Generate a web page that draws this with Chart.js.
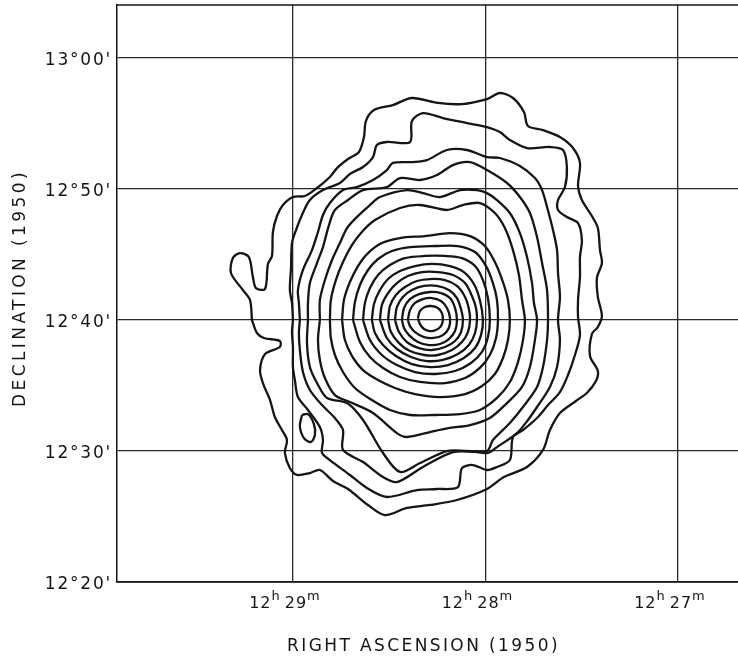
<!DOCTYPE html>
<html>
<head>
<meta charset="utf-8">
<script src="https://cdn.jsdelivr.net/npm/chart.js@4/dist/chart.umd.min.js"></script>
<style>
html,body{margin:0;padding:0;background:#fff;}
canvas{display:block;}
</style>
</head>
<body>
<canvas id="c" width="738" height="658" style="width:738px;height:658px"></canvas>
<script>
// Right ascension in minutes of time past 12h, declination in arcminutes past 12°
const xTickValues = [29, 28, 27];
const xTickHours = ["12", "12", "12"];
const xTickMinutes = ["29", "28", "27"];
const yTickValues = [20, 30, 40, 50, 60];
const yTickLabels = ["12°20'", "12°30'", "12°40'", "12°50'", "13°00'"];
const xTitle = "RIGHT ASCENSION (1950)";
const yTitle = "DECLINATION (1950)";

// contour levels, outermost first: [RA (min), Dec (arcmin)]
const contour01 = [[29.213,40.00],[29.223,41.53],[29.260,42.29],[29.322,43.59],[29.312,44.73],[29.275,45.11],[29.229,44.81],[29.208,43.28],[29.192,42.44],[29.145,42.37],[29.130,44.28],[29.109,44.89],[29.104,46.72],[29.083,47.94],[29.052,48.78],[29.000,49.39],[28.938,49.47],[28.875,50.08],[28.808,50.92],[28.771,51.60],[28.714,52.29],[28.657,52.83],[28.631,53.97],[28.621,55.19],[28.579,56.03],[28.481,56.41],[28.382,56.95],[28.247,56.57],[28.122,56.49],[27.992,56.87],[27.925,57.33],[27.857,56.95],[27.800,55.88],[27.779,54.81],[27.701,54.50],[27.613,53.97],[27.545,53.13],[27.509,51.99],[27.519,50.23],[27.499,49.16],[27.447,47.94],[27.416,47.02],[27.405,45.34],[27.395,44.35],[27.421,43.21],[27.416,41.76],[27.395,40.31],[27.416,39.47],[27.447,38.93],[27.457,37.25],[27.416,36.11],[27.426,35.34],[27.473,34.43],[27.530,33.82],[27.613,32.90],[27.665,31.60],[27.701,30.08],[27.784,28.78],[27.904,28.01],[27.992,27.10],[28.148,26.26],[28.288,25.88],[28.408,25.65],[28.522,25.11],[28.610,25.88],[28.714,27.10],[28.792,27.71],[28.860,28.55],[28.912,28.32],[28.979,28.17],[29.016,28.70],[29.042,29.85],[29.031,30.84],[29.057,31.60],[29.094,32.60],[29.119,33.89],[29.156,35.19],[29.171,36.18],[29.145,37.40],[29.068,37.94],[29.068,38.40],[29.151,38.63],[29.187,39.01]];
const island01 = [[28.953,32.75],[28.922,32.82],[28.891,32.06],[28.886,31.22],[28.906,30.69],[28.943,30.99],[28.964,31.91]];
const contour02 = [[29.000,40.00],[29.005,41.30],[29.016,42.29],[29.010,43.97],[29.005,45.88],[28.984,46.87],[28.953,48.02],[28.912,49.16],[28.844,49.92],[28.756,50.46],[28.704,51.15],[28.636,51.68],[28.584,52.44],[28.564,53.36],[28.512,53.59],[28.392,53.59],[28.382,55.19],[28.325,55.80],[28.221,55.42],[28.096,55.04],[27.992,54.73],[27.925,54.35],[27.873,53.74],[27.784,53.13],[27.665,53.21],[27.597,52.98],[27.577,51.68],[27.587,50.15],[27.623,49.16],[27.623,48.40],[27.577,47.86],[27.519,47.40],[27.499,46.11],[27.509,44.81],[27.509,43.28],[27.519,41.53],[27.519,40.23],[27.509,38.85],[27.535,37.33],[27.571,35.80],[27.613,34.50],[27.675,33.51],[27.732,32.52],[27.805,31.60],[27.857,31.07],[27.873,29.31],[27.940,28.78],[27.992,28.55],[28.065,28.93],[28.122,28.70],[28.143,27.25],[28.252,27.10],[28.356,27.02],[28.512,26.49],[28.616,27.18],[28.704,28.17],[28.808,29.31],[28.849,29.85],[28.844,30.84],[28.860,31.83],[28.922,33.13],[28.974,34.12],[28.990,35.42],[29.000,36.41],[29.000,37.94],[29.005,39.08]];
const contour03 = [[28.964,40.00],[28.969,41.30],[28.974,42.29],[28.948,43.82],[28.901,45.34],[28.870,46.72],[28.844,48.02],[28.808,48.93],[28.740,49.92],[28.668,50.15],[28.584,50.69],[28.512,51.45],[28.481,51.99],[28.377,52.06],[28.304,52.21],[28.200,52.98],[28.096,52.98],[27.992,52.44],[27.925,52.37],[27.821,51.76],[27.743,50.84],[27.706,49.92],[27.680,48.63],[27.649,46.87],[27.628,45.34],[27.623,43.59],[27.613,41.76],[27.623,40.00],[27.613,38.47],[27.628,36.41],[27.665,34.89],[27.732,33.36],[27.779,32.37],[27.836,31.37],[27.940,30.30],[27.987,29.85],[28.044,29.92],[28.169,29.92],[28.325,28.78],[28.460,27.63],[28.532,28.01],[28.636,29.16],[28.740,30.08],[28.740,31.60],[28.782,32.52],[28.849,33.51],[28.912,34.66],[28.948,36.03],[28.964,37.71],[28.969,39.01]];
const contour04 = [[28.922,40.00],[28.922,41.30],[28.912,42.82],[28.875,44.35],[28.844,45.57],[28.813,47.25],[28.782,48.40],[28.714,49.16],[28.636,49.92],[28.512,50.15],[28.444,50.84],[28.340,50.69],[28.252,51.07],[28.169,51.83],[28.080,52.06],[27.992,51.45],[27.888,50.46],[27.821,49.39],[27.769,48.17],[27.732,46.34],[27.706,44.35],[27.680,42.29],[27.675,40.00],[27.680,38.47],[27.701,36.41],[27.732,34.89],[27.805,33.36],[27.873,32.14],[27.961,30.84],[27.992,30.00],[28.096,30.00],[28.200,30.00],[28.340,29.08],[28.444,28.40],[28.532,29.85],[28.636,32.37],[28.719,33.66],[28.823,34.05],[28.875,35.19],[28.912,36.41],[28.927,38.24]];
const contour05 = [[28.860,40.00],[28.860,41.53],[28.834,43.05],[28.797,44.58],[28.756,45.88],[28.719,47.02],[28.668,47.86],[28.600,48.78],[28.548,49.39],[28.408,49.92],[28.325,49.69],[28.236,49.39],[28.132,49.92],[28.044,49.92],[27.992,49.69],[27.940,49.16],[27.873,48.17],[27.821,46.64],[27.784,44.81],[27.758,42.82],[27.748,41.30],[27.732,40.00],[27.743,38.47],[27.769,36.41],[27.810,34.89],[27.888,33.66],[27.977,32.52],[28.080,31.98],[28.184,31.76],[28.288,31.45],[28.408,31.07],[28.460,31.37],[28.584,32.90],[28.704,33.74],[28.782,34.27],[28.834,35.57],[28.860,36.95],[28.870,38.47]];
const contour06 = [[28.808,40.00],[28.803,41.53],[28.777,43.05],[28.740,44.43],[28.693,45.73],[28.642,46.72],[28.574,47.63],[28.444,48.55],[28.340,48.78],[28.200,48.40],[28.117,48.78],[28.029,48.93],[27.951,48.17],[27.899,47.02],[27.857,45.34],[27.826,43.44],[27.810,41.53],[27.795,40.00],[27.805,38.47],[27.831,36.79],[27.873,35.27],[27.940,34.05],[28.029,33.13],[28.132,32.82],[28.262,32.75],[28.392,32.75],[28.496,33.13],[28.590,33.89],[28.678,34.81],[28.740,36.03],[28.782,37.33],[28.803,38.63]];
const contour07 = [[28.745,40.00],[28.735,41.53],[28.704,42.90],[28.662,44.12],[28.610,45.11],[28.538,45.88],[28.444,46.26],[28.314,46.41],[28.184,46.64],[28.080,46.41],[28.003,45.65],[27.951,44.43],[27.909,42.90],[27.883,41.53],[27.873,40.00],[27.883,38.47],[27.909,37.10],[27.951,35.88],[28.018,34.96],[28.106,34.35],[28.236,34.12],[28.366,34.35],[28.470,34.81],[28.558,35.42],[28.636,36.18],[28.693,37.25],[28.730,38.47]];
const contour08 = [[28.688,40.00],[28.678,41.37],[28.652,42.67],[28.610,43.82],[28.558,44.66],[28.486,45.27],[28.392,45.57],[28.262,45.65],[28.143,45.65],[28.054,45.19],[27.997,44.12],[27.961,42.82],[27.940,41.53],[27.935,40.00],[27.945,38.63],[27.977,37.33],[28.029,36.34],[28.106,35.57],[28.210,35.19],[28.340,35.27],[28.444,35.65],[28.532,36.34],[28.600,37.18],[28.652,38.32]];
const contour09 = [[28.636,40.00],[28.626,41.30],[28.600,42.44],[28.558,43.44],[28.496,44.20],[28.418,44.73],[28.314,44.89],[28.210,44.89],[28.122,44.73],[28.054,44.12],[28.013,43.05],[27.987,41.68],[27.977,40.00],[27.987,38.70],[28.018,37.56],[28.075,36.72],[28.158,36.11],[28.262,35.88],[28.366,36.03],[28.460,36.56],[28.538,37.33],[28.600,38.47]];
const contour10 = [[28.590,40.00],[28.579,41.22],[28.548,42.29],[28.506,43.13],[28.444,43.74],[28.366,44.12],[28.278,44.28],[28.184,44.12],[28.112,43.66],[28.060,42.75],[28.029,41.53],[28.013,40.00],[28.023,38.85],[28.054,37.86],[28.112,37.10],[28.195,36.56],[28.288,36.41],[28.382,36.64],[28.465,37.25],[28.532,38.09],[28.574,39.01]];
const contour11 = [[28.548,40.00],[28.538,41.15],[28.506,42.06],[28.460,42.82],[28.403,43.36],[28.330,43.66],[28.247,43.66],[28.169,43.44],[28.106,42.82],[28.070,41.83],[28.049,40.92],[28.044,40.00],[28.054,39.01],[28.086,38.09],[28.143,37.40],[28.221,36.95],[28.304,36.87],[28.387,37.18],[28.460,37.79],[28.512,38.63]];
const contour12 = [[28.506,40.00],[28.496,41.07],[28.465,41.91],[28.418,42.52],[28.356,42.98],[28.288,43.13],[28.210,43.05],[28.148,42.60],[28.106,41.76],[28.086,40.84],[28.080,40.00],[28.091,39.08],[28.122,38.32],[28.174,37.71],[28.247,37.33],[28.319,37.33],[28.392,37.63],[28.449,38.24],[28.491,39.08]];
const contour13 = [[28.470,40.00],[28.460,40.99],[28.429,41.76],[28.382,42.29],[28.319,42.60],[28.252,42.60],[28.190,42.29],[28.148,41.68],[28.127,40.84],[28.117,40.00],[28.127,39.08],[28.158,38.40],[28.210,37.94],[28.278,37.71],[28.345,37.86],[28.408,38.32],[28.449,39.08]];
const contour14 = [[28.434,40.00],[28.423,40.92],[28.392,41.60],[28.345,41.98],[28.288,42.14],[28.231,42.06],[28.184,41.68],[28.158,40.92],[28.148,40.00],[28.158,39.16],[28.190,38.55],[28.236,38.17],[28.293,38.09],[28.351,38.32],[28.397,38.85],[28.423,39.39]];
const contour15 = [[28.403,40.00],[28.392,40.76],[28.366,41.30],[28.325,41.60],[28.278,41.68],[28.231,41.45],[28.200,40.92],[28.184,40.15],[28.190,39.39],[28.221,38.85],[28.268,38.63],[28.319,38.70],[28.366,39.08],[28.392,39.54]];
const contour16 = [[28.351,40.15],[28.340,40.69],[28.314,40.99],[28.283,41.07],[28.247,40.92],[28.226,40.53],[28.221,40.00],[28.231,39.54],[28.257,39.24],[28.288,39.16],[28.319,39.31],[28.340,39.69]];

const contours = [contour01, island01, contour02, contour03, contour04, contour05, contour06, contour07, contour08,
  contour09, contour10, contour11, contour12, contour13, contour14, contour15, contour16];

const INK = '#151515';
const datasets = contours.map(arr => ({
  data: arr.concat([arr[0]]).map(p => ({x: p[0], y: p[1]})),
  showLine: true,
  borderColor: INK,
  borderWidth: 2.3,
  pointRadius: 0,
  fill: false,
  tension: 0.3
}));

const FONT = '"DejaVu Sans", "Liberation Sans", sans-serif';

const textPlugin = {
  id: 'textPlugin',
  afterDraw(chart) {
    const {ctx, chartArea, scales} = chart;
    ctx.save();
    // top frame line
    ctx.strokeStyle = INK;
    ctx.lineWidth = 1.5;
    ctx.beginPath();
    ctx.moveTo(chartArea.left, chartArea.top);
    ctx.lineTo(chartArea.right, chartArea.top);
    ctx.stroke();

    ctx.fillStyle = INK;
    // y tick labels
    ctx.font = '17px ' + FONT;
    ctx.letterSpacing = '1.8px';
    ctx.textAlign = 'right';
    ctx.textBaseline = 'alphabetic';
    yTickValues.forEach((v, i) => {
      const y = scales.y.getPixelForValue(v);
      ctx.fillText(yTickLabels[i], chartArea.left - 5, y + 6.5);
    });

    // x tick labels with superscripts
    ctx.textAlign = 'left';
    ctx.letterSpacing = '1px';
    xTickValues.forEach((v, i) => {
      const gx = scales.x.getPixelForValue(v);
      const big = '16px ' + FONT, small = '13px ' + FONT;
      ctx.font = big; const w1 = ctx.measureText(xTickHours[i]).width;
      ctx.font = small; const w2 = ctx.measureText('h').width;
      ctx.font = big; const w3 = ctx.measureText(xTickMinutes[i]).width;
      ctx.font = small; const w4 = ctx.measureText('m').width;
      const gap = 4;
      const total = w1 + w2 + gap + w3 + w4;
      let x = gx - total / 2 - 8;
      const base = 608;
      ctx.font = big; ctx.fillText(xTickHours[i], x, base); x += w1;
      ctx.font = small; ctx.fillText('h', x, base - 8); x += w2 + gap;
      ctx.font = big; ctx.fillText(xTickMinutes[i], x, base); x += w3;
      ctx.font = small; ctx.fillText('m', x, base - 8);
    });

    // axis titles
    ctx.font = '17px ' + FONT;
    ctx.letterSpacing = '2.4px';
    ctx.textAlign = 'center';
    ctx.fillText(xTitle, (chartArea.left + chartArea.right) / 2 - 4, 651);
    ctx.save();
    ctx.translate(25, 288);
    ctx.rotate(-Math.PI / 2);
    ctx.letterSpacing = '3.4px';
    ctx.fillText(yTitle, 0, 0);
    ctx.restore();
    ctx.restore();
  }
};

new Chart(document.getElementById('c'), {
  type: 'scatter',
  data: { datasets },
  options: {
    responsive: false,
    devicePixelRatio: 1,
    animation: false,
    layout: { padding: { left: 117, right: 0, top: 5, bottom: 76 } },
    plugins: { legend: { display: false }, tooltip: { enabled: false } },
    scales: {
      x: {
        type: 'linear',
        reverse: true,
        min: 26.688,
        max: 29.914,
        afterBuildTicks: s => { s.ticks = xTickValues.map(v => ({value: v})); },
        ticks: { display: false },
        grid: { color: '#2a2a2a', lineWidth: 1.3, drawTicks: false },
        border: { display: true, color: INK, width: 1.8 }
      },
      y: {
        type: 'linear',
        min: 20,
        max: 64.05,
        afterBuildTicks: s => { s.ticks = yTickValues.map(v => ({value: v})); },
        ticks: { display: false },
        grid: { color: '#2a2a2a', lineWidth: 1.3, drawTicks: false },
        border: { display: true, color: INK, width: 1.5 }
      }
    }
  },
  plugins: [textPlugin]
});
</script>
</body>
</html>
